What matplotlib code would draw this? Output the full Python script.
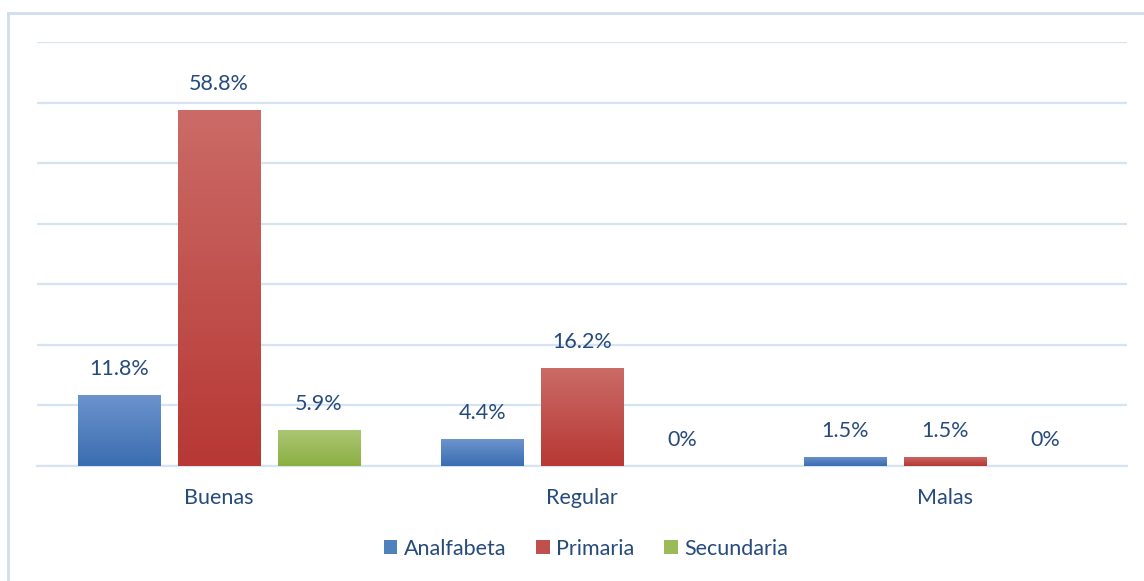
import numpy as np
import matplotlib.pyplot as plt
from matplotlib.patches import Patch
from matplotlib.lines import Line2D
from matplotlib.colors import LinearSegmentedColormap

categories = ["Buenas", "Regular", "Malas"]
series = ["Analfabeta", "Primaria", "Secundaria"]
analfabeta = [11.8, 4.4, 1.5]
primaria = [58.8, 16.2, 1.5]
secundaria = [5.9, 0.0, 0.0]

# top (light) / bottom (dark) colours of each series gradient
grad_colors = [
    ("#6C94CD", "#3A6DB1"),
    ("#CB6B67", "#B73834"),
    ("#ABC672", "#8BAF43"),
]
legend_colors = ["#4F81BD", "#C0504D", "#9BBB59"]
text_color = "#254A7C"
grid_color = "#D6E3F3"
fs = 15.5

plt.rcParams["font.family"] = ["Lato", "DejaVu Sans"]

W, H = 1144, 581
fig = plt.figure(figsize=(W / 100, H / 100), dpi=100)
ax = fig.add_axes([37 / W, 1 - 466 / H, (1127 - 37) / W, (466 - 42) / H])

x = np.arange(len(categories))
width = 0.226
offset = 0.275
values = [analfabeta, primaria, secundaria]

for i, vals in enumerate(values):
    pos = x + (i - 1) * offset
    bars = ax.bar(pos, vals, width=width, color=legend_colors[i], zorder=3)
    cmap = LinearSegmentedColormap.from_list("g%d" % i, [grad_colors[i][1], grad_colors[i][0]])
    for b, v in zip(bars, vals):
        if v > 0:
            grad = np.linspace(0, 1, 100).reshape(-1, 1)
            im = ax.imshow(grad, cmap=cmap, origin="lower", aspect="auto",
                           extent=[b.get_x(), b.get_x() + b.get_width(), 0, v],
                           zorder=4)
            im.set_clip_path(b)
        label = "0%" if v == 0 else f"{v:.1f}%"
        ax.annotate(label, (b.get_x() + b.get_width() / 2, v),
                    xytext=(0, 26), textcoords="offset pixels",
                    ha="center", va="center", fontsize=fs, color=text_color, zorder=5)

ax.set_ylim(0, 70)
ax.set_yticks(np.arange(0, 71, 10))
ax.yaxis.grid(True, color=grid_color, linewidth=1.6, zorder=0)
ax.set_yticklabels([])
ax.tick_params(axis="y", length=0)
ax.set_xticks(x)
ax.set_xticklabels(categories, fontsize=fs, color=text_color)
ax.tick_params(axis="x", length=0, pad=16)
for s in ["top", "right", "left"]:
    ax.spines[s].set_visible(False)
ax.spines["bottom"].set_color(grid_color)
ax.spines["bottom"].set_linewidth(1.6)
ax.set_xlim(-0.5, 2.5)

handles = [Patch(facecolor=c, edgecolor="none") for c in legend_colors]
leg = fig.legend(handles, series, loc="center", bbox_to_anchor=(586 / W, 1 - 549 / H),
                 ncol=3, frameon=False, fontsize=fs, handlelength=0.62,
                 handleheight=0.62, handletextpad=0.3, columnspacing=1.4)
for t in leg.get_texts():
    t.set_color(text_color)

# chart area border (top and left visible)
fig.add_artist(Line2D([8 / W, 1], [1 - 13 / H, 1 - 13 / H], color="#D0DEEF", linewidth=2))
fig.add_artist(Line2D([8 / W, 8 / W], [0, 1 - 13 / H], color="#D0DEEF", linewidth=2))

fig.savefig("out.png", dpi=100)
